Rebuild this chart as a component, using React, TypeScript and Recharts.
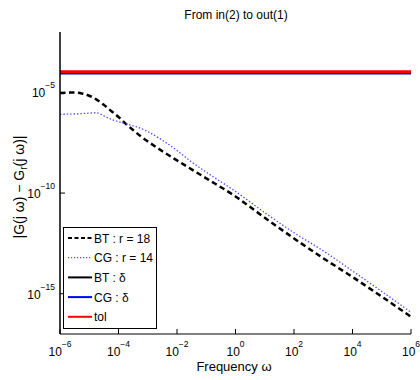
import React from 'react';
import { LineChart, Line, XAxis, YAxis, Legend } from 'recharts';

const FONT = '"Liberation Sans", Arial, Helvetica, sans-serif';

// Frequency grid (rad/s)
const freqs = [1e-6, 1.78e-6, 3.16e-6, 5.62e-6, 1e-5, 1.78e-5, 3.16e-5, 5.62e-5, 1e-4, 1.78e-4, 3.16e-4, 5.62e-4, 1e-3, 3.16e-3, 1e-2, 3.16e-2, 1e-1, 1, 10, 100, 1e3, 1e4, 1e5, 1e6];
// |G - Gr| for BT, r = 18
const btErr = [9.3e-6, 9.6e-6, 1.0e-5, 8.9e-6, 6.8e-6, 4.4e-6, 2.4e-6, 1.2e-6, 6.0e-7, 2.75e-7, 1.35e-7, 6.8e-8, 3.7e-8, 1.2e-8, 4.2e-9, 1.5e-9, 5.4e-10, 6.8e-11, 6.0e-12, 5.6e-13, 5.8e-14, 6.8e-15, 7.2e-16, 7.2e-17];
// |G - Gr| for CG, r = 14
const cgErr = [8.1e-7, 8.3e-7, 8.5e-7, 8.9e-7, 9.3e-7, 9.8e-7, 6.8e-7, 4.6e-7, 3.5e-7, 2.75e-7, 2.2e-7, 1.66e-7, 1.12e-7, 4.2e-8, 1.3e-8, 3.5e-9, 1.1e-9, 1.2e-10, 1.07e-11, 1.07e-12, 1.35e-13, 1.35e-14, 1.3e-15, 1.2e-16];
// Bounds
const boundFreqs = [1e-6, 1e6];
const btDelta = [9.0e-5, 9.0e-5];
const cgDelta = [8.5e-5, 8.5e-5];
const tolValues = [1.05e-4, 1.05e-4];

const xTicks = [1e-6, 1e-4, 1e-2, 1, 1e2, 1e4, 1e6];
const xTickLabels = ['\u22126', '\u22124', '\u22122', '0', '2', '4', '6'];
const yTicks = [1e-15, 1e-10, 1e-5];
const yTickLabels = ['\u221215', '\u221210', '\u22125'];

const legendNames = ['BT :  r = 18', 'CG :  r = 14', 'BT : \u03b4', 'CG : \u03b4', 'tol'];
const legendColors = ['#000000', '#4a4aff', '#000000', '#0000ff', '#ff0000'];
const legendDashes = ['4 2.5', '1.2 1.8', '', '', ''];
const legendWidths = [2.2, 1.2, 2, 2, 2];

const toRows = (xs: number[], ys: number[]) => xs.map((w, i) => ({ w, v: ys[i] }));
const btData = toRows(freqs, btErr);
const cgData = toRows(freqs, cgErr);
const btDeltaData = toRows(boundFreqs, btDelta);
const cgDeltaData = toRows(boundFreqs, cgDelta);
const tolData = toRows(boundFreqs, tolValues);

const XTick = (props: any) => {
  const { x, y, payload } = props;
  const i = xTicks.indexOf(payload.value);
  return (
    <g>
      <line x1={x} x2={x} y1={y} y2={y - 5} stroke="#000" strokeWidth={1} />
      <text x={x} y={y + 22} textAnchor="middle" fontSize={12} fontFamily={FONT} fill="#000">
        <tspan>10</tspan>
        <tspan dy={-9} fontSize={8.5}>{xTickLabels[i]}</tspan>
      </text>
    </g>
  );
};

const YTick = (props: any) => {
  const { x, y, payload } = props;
  const i = yTicks.indexOf(payload.value);
  return (
    <g>
      <line x1={x} x2={x + 5} y1={y} y2={y} stroke="#000" strokeWidth={1} />
      <text x={x - 5} y={y + 5} textAnchor="end" fontSize={12} fontFamily={FONT} fill="#000">
        <tspan>10</tspan>
        <tspan dy={-9} fontSize={8.5}>{yTickLabels[i]}</tspan>
      </text>
    </g>
  );
};

const NoTick = () => <g />;

const LegendBox = () => (
  <div style={{ width: 94, height: 102, border: '1px solid #000', background: '#fff', boxSizing: 'border-box' }}>
    <svg width={92} height={100} style={{ display: 'block' }}>
      {legendNames.map((name, i) => {
        const cy = 10 + i * 19.7;
        return (
          <g key={name}>
            <line x1={4} x2={28} y1={cy} y2={cy} stroke={legendColors[i]} strokeWidth={legendWidths[i]}
              strokeDasharray={legendDashes[i] || undefined} />
            <text x={30} y={cy + 4.5} fontSize={12} fontFamily={FONT} fill="#000">{name}</text>
          </g>
        );
      })}
    </svg>
  </div>
);

export default function App() {
  return (
    <div style={{ position: 'absolute', left: 0, top: 0, width: 420, height: 380, background: '#fff' }}>
      <LineChart width={420} height={380} margin={{ top: 32, right: 9, bottom: 16, left: 0 }}>
        <XAxis xAxisId="b" dataKey="w" type="number" scale="log" domain={[1e-6, 1e6]} ticks={xTicks}
          interval={0} allowDataOverflow orientation="bottom" height={30} tickSize={0} tickMargin={0}
          tickLine={false} tick={<XTick />} axisLine={{ stroke: '#000', strokeWidth: 1.2 }} />
        <XAxis xAxisId="t" dataKey="w" type="number" scale="log" domain={[1e-6, 1e6]} ticks={xTicks}
          interval={0} allowDataOverflow orientation="top" mirror height={0} tickSize={5}
          tick={<NoTick />} tickLine={{ stroke: '#000' }} axisLine={{ stroke: '#000', strokeWidth: 1.2 }} />
        <YAxis yAxisId="l" type="number" scale="log" domain={[1e-17, 1e-2]} ticks={yTicks} interval={0}
          allowDataOverflow orientation="left" width={60} tickSize={0} tickMargin={0} tickLine={false}
          tick={<YTick />} axisLine={{ stroke: '#000', strokeWidth: 1.5 }} />
        <YAxis yAxisId="r" type="number" scale="log" domain={[1e-17, 1e-2]} ticks={yTicks} interval={0}
          allowDataOverflow orientation="right" mirror width={0} tickSize={5} tick={<NoTick />}
          tickLine={{ stroke: '#000' }} axisLine={{ stroke: '#000', strokeWidth: 1.2 }} />
        <Line xAxisId="b" yAxisId="l" data={btData} dataKey="v" type="monotone" stroke="#000"
          strokeWidth={2.5} strokeDasharray="5.5 3.5" dot={false} isAnimationActive={false} />
        <Line xAxisId="b" yAxisId="l" data={cgData} dataKey="v" type="monotone" stroke="#4a4aff"
          strokeWidth={1.3} strokeDasharray="1.4 2" dot={false} isAnimationActive={false} />
        <Line xAxisId="b" yAxisId="l" data={btDeltaData} dataKey="v" type="linear" stroke="#000"
          strokeWidth={1.5} dot={false} isAnimationActive={false} />
        <Line xAxisId="b" yAxisId="l" data={cgDeltaData} dataKey="v" type="linear" stroke="#0000aa"
          strokeWidth={1.5} dot={false} isAnimationActive={false} />
        <Line xAxisId="b" yAxisId="l" data={tolData} dataKey="v" type="linear" stroke="#ff0000"
          strokeWidth={3} dot={false} isAnimationActive={false} />
        <Legend layout="vertical" align="center" verticalAlign="middle" content={<LegendBox />}
          wrapperStyle={{ position: 'absolute', left: 63, top: 227, width: 94, height: 102 }} />
      </LineChart>
      <svg width={420} height={380} style={{ position: 'absolute', left: 0, top: 0, pointerEvents: 'none' }}>
        <text x={236} y={19} textAnchor="middle" fontSize={12} fontFamily={FONT} fill="#000">From in(2) to out(1)</text>
        <text x={234} y={371} textAnchor="middle" fontSize={13} fontFamily={FONT} fill="#000">Frequency {'\u03c9'}</text>
        <text x={0} y={0} transform="translate(24,187) rotate(-90)" textAnchor="middle" fontSize={14}
          fontFamily={FONT} fill="#000">
          <tspan>|G(j {'\u03c9'})  {'\u2212'}  G</tspan>
          <tspan fontSize={10} dy={3}>r</tspan>
          <tspan dy={-3}>(j {'\u03c9'})|</tspan>
        </text>
      </svg>
    </div>
  );
}
